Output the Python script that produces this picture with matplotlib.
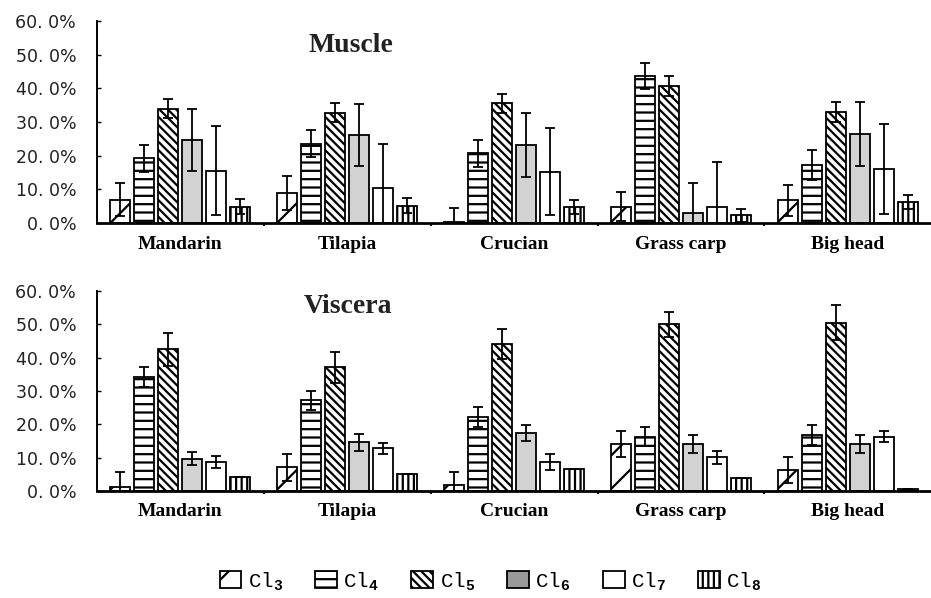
import matplotlib
matplotlib.use("Agg")
import matplotlib.pyplot as plt
from matplotlib.patches import Patch
import numpy as np

plt.rcParams['hatch.linewidth'] = 1.6
plt.rcParams['mathtext.fontset'] = 'custom'
plt.rcParams['mathtext.rm'] = 'Liberation Mono'
plt.rcParams['mathtext.bf'] = 'Liberation Mono:bold'

fish = ["Mandarin", "Tilapia", "Crucian", "Grass carp", "Big head"]
series = ["Cl3", "Cl4", "Cl5", "Cl6", "Cl7", "Cl8"]
legend_labels = [r"Cl$_{\mathbf{3}}$", r"Cl$_{\mathbf{4}}$", r"Cl$_{\mathbf{5}}$",
                 r"Cl$_{\mathbf{6}}$", r"Cl$_{\mathbf{7}}$", r"Cl$_{\mathbf{8}}$"]
yticks = [0, 10, 20, 30, 40, 50, 60]
ytick_labels = ["0. 0%", "10. 0%", "20. 0%", "30. 0%", "40. 0%", "50. 0%", "60. 0%"]

# Muscle: rows = series (Cl3..Cl8), columns = fish
muscle_vals = {
    "Cl3": [6.9, 8.9, 0.2, 4.8, 6.8],
    "Cl4": [19.2, 23.6, 20.7, 43.6, 17.3],
    "Cl5": [34.0, 32.8, 35.6, 40.8, 33.0],
    "Cl6": [24.8, 26.2, 23.1, 2.9, 26.4],
    "Cl7": [15.6, 10.3, 15.2, 4.9, 16.0],
    "Cl8": [4.8, 5.2, 4.8, 2.3, 6.2],
}
muscle_err = {
    "Cl3": [4.9, 5.0, 4.3, 4.3, 4.6],
    "Cl4": [4.0, 4.0, 4.1, 3.9, 4.4],
    "Cl5": [2.8, 2.9, 2.8, 3.0, 3.1],
    "Cl6": [9.2, 9.3, 9.5, 9.0, 9.5],
    "Cl7": [13.2, 13.3, 12.9, 13.3, 13.4],
    "Cl8": [2.2, 2.1, 2.1, 2.0, 2.0],
}
# Viscera
viscera_vals = {
    "Cl3": [1.1, 7.1, 1.7, 14.1, 6.3],
    "Cl4": [34.2, 27.2, 22.2, 16.3, 16.8],
    "Cl5": [42.5, 37.1, 44.1, 50.0, 50.5],
    "Cl6": [9.7, 14.6, 17.3, 14.1, 14.1],
    "Cl7": [8.7, 12.8, 8.7, 10.1, 16.3],
    "Cl8": [4.1, 5.1, 6.6, 4.0, 0.6],
}
viscera_err = {
    "Cl3": [4.7, 4.0, 4.1, 3.9, 3.9],
    "Cl4": [2.9, 2.9, 2.9, 2.9, 2.9],
    "Cl5": [5.0, 4.6, 4.5, 3.8, 5.2],
    "Cl6": [1.9, 2.6, 2.4, 2.7, 2.7],
    "Cl7": [1.9, 1.7, 2.3, 2.0, 1.7],
    "Cl8": [0.0, 0.0, 0.0, 0.0, 0.0],
}

styles = {
    "Cl3": dict(facecolor="white", hatch="/"),
    "Cl4": dict(facecolor="white", hatch="--"),
    "Cl5": dict(facecolor="white", hatch="\\\\\\\\"),
    "Cl6": dict(facecolor="#d2d2d2", hatch=None),
    "Cl7": dict(facecolor="white", hatch=None),
    "Cl8": dict(facecolor="white", hatch="|||"),
}

fig = plt.figure(figsize=(9.31, 5.98), dpi=100)
ax_top = fig.add_axes([0.1042, 0.627, 0.896, 0.3378])
ax_bot = fig.add_axes([0.1042, 0.179, 0.896, 0.3344])

x = np.arange(len(fish))
width = 0.12
step = 0.144


def draw(ax, vals, errs, title, tx, ty):
    for i, s in enumerate(series):
        ax.bar(x + (i - 2.5) * step, vals[s], width, yerr=errs[s],
               edgecolor="black", linewidth=1.3,
               error_kw=dict(ecolor="black", elinewidth=1.3, capsize=3.8, capthick=1.3),
               **styles[s])
    ax.set_xlim(-0.5, 4.5)
    ax.set_ylim(0, 60)
    ax.set_yticks(yticks)
    ax.set_yticklabels(ytick_labels, fontsize=12.5, family="DejaVu Sans", color="#222222")
    ax.tick_params(axis="y", direction="in", length=3, width=1, pad=15)
    ax.set_xticks(x)
    ax.set_xticklabels(fish, fontsize=14, family="Liberation Serif", fontweight="bold")
    ax.tick_params(axis="x", which="major", length=0, pad=9)
    ax.set_xticks(x[:-1] + 0.5, minor=True)
    ax.tick_params(axis="x", which="minor", direction="out", length=2.5, width=1.5)
    for sp in ["top", "right"]:
        ax.spines[sp].set_visible(False)
    ax.spines["left"].set_linewidth(1.4)
    ax.spines["bottom"].set_linewidth(2.0)
    ax.text(tx, ty, title, transform=ax.transAxes, ha="center", va="center",
            fontsize=20, family="Liberation Serif", fontweight="bold", color="#222222")


draw(ax_top, muscle_vals, muscle_err, "Muscle", 0.305, 0.88)
draw(ax_bot, viscera_vals, viscera_err, "Viscera", 0.301, 0.92)

handles = [Patch(edgecolor="black", linewidth=1.3, **styles[s]) for s in series]
handles[3] = Patch(edgecolor="black", linewidth=1.3, facecolor="#9a9a9a")
fig.legend(handles, legend_labels, loc="center", bbox_to_anchor=(0.527, 0.028),
           ncol=6, frameon=False, prop=dict(family="Liberation Mono", size=15),
           handlelength=1.05, handleheight=0.85, handletextpad=0.3,
           columnspacing=1.55)

fig.savefig("out.png", dpi=100)
